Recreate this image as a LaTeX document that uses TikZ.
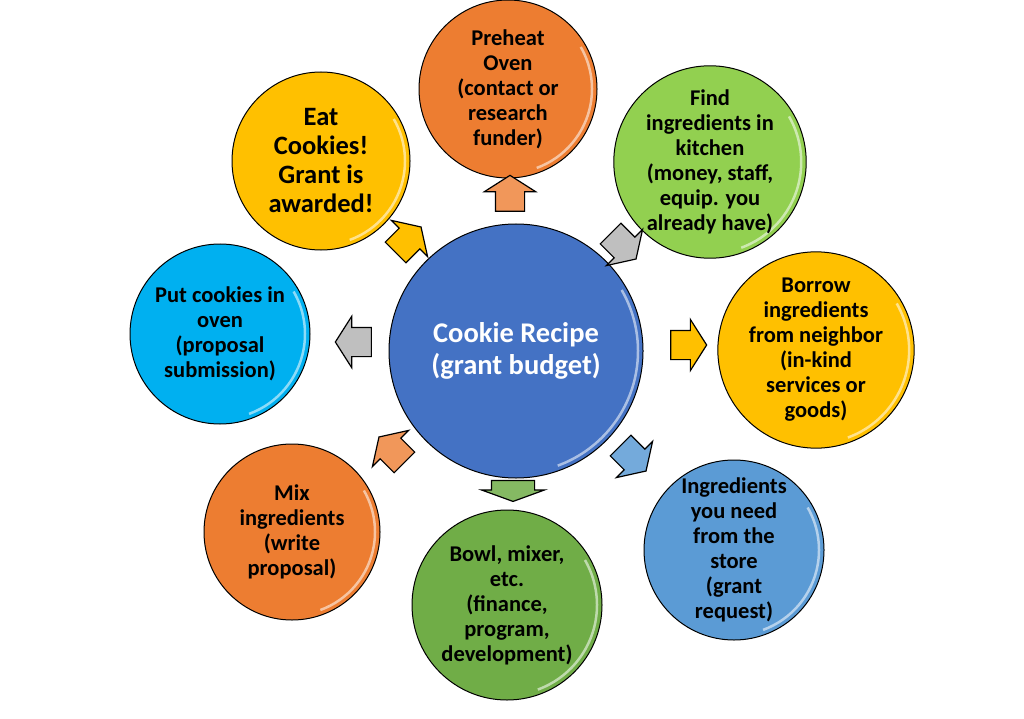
\documentclass[tikz,border=0pt]{standalone}
\usepackage{fontspec}
\setmainfont{Carlito}
\usepackage{tikz}
\usetikzlibrary{shapes.arrows,calc}
\definecolor{ovenorange}{HTML}{ED7D31}
\definecolor{leafgreen}{HTML}{92D050}
\definecolor{bowlgreen}{HTML}{70AD47}
\definecolor{goldy}{HTML}{FFC000}
\definecolor{skyblue}{HTML}{5B9BD5}
\definecolor{cyanish}{HTML}{00B0F0}
\definecolor{recipeblue}{HTML}{4472C4}
\definecolor{steelgray}{HTML}{BFBFBF}
\tikzset{ball/.style={draw=black,line width=1pt,shape=circle,inner sep=0pt,minimum size=#1,align=center,font=\bfseries\fontsize{22.5}{25}\selectfont,
    path picture={\draw[white,opacity=.55,line width=2.5pt] let \p1=(path picture bounding box.north east), \p2=(path picture bounding box.center), \n1={\x1-\x2-5pt} in ($(\p2)+(-70:\n1)$) arc[start angle=-70,end angle=30,radius=\n1];}},
  ball/.default=180pt,
  arw/.style={single arrow,draw=black,line width=1.2pt,fill=#1,minimum height=36pt,minimum width=50pt,inner xsep=0pt,inner ysep=14pt,
    single arrow head extend=11pt,single arrow tip angle=115}}

\begin{document}
\begin{tikzpicture}[x=1pt,y=-1pt]
    \useasboundingbox (0,0) rectangle (1024,719);
    
    % hub
    \node [ball=254pt,fill=recipeblue,text=white,font=\bfseries\fontsize{28.5}{32}\selectfont] (recipe) at (516,351) {Cookie Recipe\\(grant budget)};
    
    % steps round the hub
    \node [ball=178pt,fill=ovenorange] (oven) at (508,89) {Preheat\\Oven\\(contact or\\research\\funder)};
    \node [ball=186pt,fill=leafgreen] (kitchen) at (710,162) {Find\\ingredients in\\kitchen\\(money, staff,\\equip. you\\already have)};
    \node [ball=180pt,fill=goldy] (borrow) at (816,350) {Borrow\\ingredients\\from neighbor\\(in-kind\\services or\\goods)};
    \node [ball=180pt,fill=skyblue] (store) at (734,550) {Ingredients\\you need\\from the\\store\\(grant\\request)};
    \node [ball=190pt,fill=bowlgreen] (bowl) at (507,605) {Bowl, mixer,\\etc.\\(finance,\\program,\\development)};
    \node [ball=176pt,fill=ovenorange] (mix) at (292,532) {Mix\\ingredients\\(write\\proposal)};
    \node [ball=180pt,fill=cyanish] (submit) at (220,334) {Put cookies in\\oven\\(proposal\\submission)};
    \node [ball=178pt,fill=goldy,font=\bfseries\fontsize{26.5}{29}\selectfont] (eat) at (321,161) {Eat\\Cookies!\\Grant is\\awarded!};
    
    % arrows
    \node [arw=ovenorange!80,rotate=90] (a1) at (510,198) {};
    \node [arw=steelgray,rotate=-45] (a2) at (620,243) {};
    \node [arw=goldy,rotate=0] (a3) at (684,345) {};
    \node [arw=skyblue!85,rotate=-45] (a4) at (630,455) {};
    \node [arw=bowlgreen!85,rotate=-90,minimum height=21pt,minimum width=62pt,inner ysep=21pt,single arrow head extend=10pt,single arrow tip angle=140] (a5) at (513,487) {};
    \node [arw=ovenorange!80,rotate=135] (a6) at (395,453) {};
    \node [arw=steelgray,rotate=180] (a7) at (358,342) {};
    \node [arw=goldy,rotate=45] (a8) at (405,243) {};
    
\end{tikzpicture}
\end{document}
